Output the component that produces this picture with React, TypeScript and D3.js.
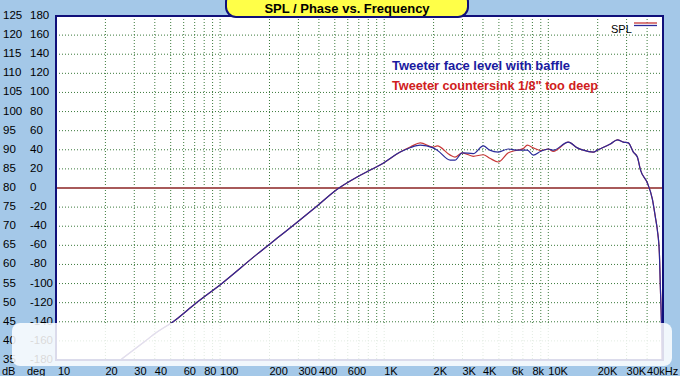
import React from "react";
import * as d3 from "d3";

// ---- data ----
const freqs = [20, 25.6, 34.4, 40.7, 51.7, 71.4, 103, 166, 223, 300, 390, 510, 684, 822, 986, 1252, 1450, 1658, 1990, 2105, 2526, 2700, 2989, 3489, 4015, 4400, 4956, 5704, 6471, 7041, 7447, 8101, 9000, 10000, 10728, 13243, 15025, 16350, 18816, 19900, 23880, 26350, 28660, 30740, 32990, 34890, 36390, 40150, 43070, 44920, 46190, 47510, 48180, 48870, 49300, 49600];
const spl1 = [32.0, 35.5, 39.7, 42.1, 45.0, 49.9, 55.1, 62.5, 66.9, 71.3, 75.3, 79.5, 82.9, 84.7, 86.5, 89.4, 90.6, 91.2, 90.5, 89.9, 87.3, 87.3, 89.2, 89.0, 91.0, 89.9, 89.4, 90.2, 89.9, 89.9, 89.9, 88.6, 89.6, 90.2, 89.9, 92.0, 90.5, 89.9, 89.4, 89.9, 91.5, 92.6, 92.0, 91.8, 89.4, 88.1, 84.8, 81.3, 77.1, 72.4, 69.0, 63.0, 54.1, 45.5, 37.0, 30.0];
const spl2 = [32.0, 35.5, 39.7, 42.1, 45.0, 49.9, 55.1, 62.5, 66.9, 71.3, 75.3, 79.5, 82.9, 84.7, 86.5, 89.4, 90.8, 91.8, 90.7, 91.0, 88.6, 88.1, 89.2, 88.3, 88.7, 87.8, 86.8, 89.2, 89.9, 90.3, 91.2, 90.5, 89.8, 90.2, 89.6, 92.0, 90.5, 89.9, 89.4, 89.9, 91.5, 92.6, 92.0, 91.8, 89.4, 88.1, 84.8, 81.3, 77.1, 72.4, 69.0, 63.0, 54.1, 45.5, 37.0, 30.0];

const dbTicks = [125, 120, 115, 110, 105, 100, 95, 90, 85, 80, 75, 70, 65, 60, 55, 50, 45, 40, 35];
const degTicks = [180, 160, 140, 120, 100, 80, 60, 40, 20, 0, -20, -40, -60, -80, -100, -120, -140, -160, -180];
const xTickValues = [10, 20, 30, 40, 60, 80, 100, 200, 300, 400, 600, 1000, 2000, 3000, 4000, 6000, 8000, 10000, 20000, 30000, 40000];
const xTickLabels = ["10", "20", "30", "40", "60", "80", "100", "200", "300", "400", "600", "1K", "2K", "3K", "4K", "6k", "8k", "10K", "20K", "30K", "40kHz"];
const gridFreqs = [20, 30, 40, 50, 60, 70, 80, 90, 100, 200, 300, 400, 500, 600, 700, 800, 900, 1000, 2000, 3000, 4000, 5000, 6000, 7000, 8000, 9000, 10000, 20000, 30000, 40000];

const title = "SPL / Phase vs. Frequency";
const note1 = "Tweeter face level with baffle";
const note2 = "Tweeter countersink 1/8\" too deep";

export default function App() {
  const W = 680, H = 376;
  const L = 56, R = 663, T = 16, B = 360;
  const x = d3.scaleLog().domain([10, 50000]).range([L, R]);
  const y = d3.scaleLinear().domain([35, 125]).range([B, T]);
  const line = d3.line<number>().x((_, i) => x(freqs[i])).y((d) => y(d)).curve(d3.curveMonotoneX);
  const font = "'Liberation Sans', Arial, sans-serif";
  const bg = "#a4c8e8";
  const navy = "#10107a";
  return (
    <svg width={W} height={H} style={{ position: "absolute", left: 0, top: 0 }} fontFamily={font}>
      <rect x={0} y={0} width={W} height={H} fill={bg} />
      <defs>
        <clipPath id="plotclip"><rect x={L} y={T} width={R - L} height={B - T} /></clipPath>
      </defs>
      <rect x={L} y={T} width={R - L} height={B - T} fill="#fff" />
      {gridFreqs.map((f) => (
        <line key={"gx" + f} x1={x(f)} x2={x(f)} y1={T} y2={B} stroke="#3c7a3c" strokeWidth={1} strokeDasharray="1,2" />
      ))}
      {dbTicks.filter((d) => d !== 80 && d !== 125 && d !== 35).map((d) => (
        <line key={"gy" + d} x1={L} x2={R} y1={y(d)} y2={y(d)} stroke="#3c7a3c" strokeWidth={1} strokeDasharray="1,2" />
      ))}
      <line x1={L} x2={R} y1={y(80)} y2={y(80)} stroke="#a85a5a" strokeWidth={2} />
      <g clipPath="url(#plotclip)">
        <path d={line(spl2) || ""} fill="none" stroke="#c83838" strokeWidth={1.2} />
        <path d={line(spl1) || ""} fill="none" stroke="#2a2a9a" strokeWidth={1.2} />
      </g>
      <rect x={L} y={T} width={R - L} height={B - T} fill="none" stroke={navy} strokeWidth={2} />
      {/* legend */}
      <text x={611} y={33} fontSize={11} fill="#000">SPL</text>
      <line x1={634} x2={657} y1={23} y2={23} stroke="#c83838" strokeWidth={1.3} />
      <line x1={634} x2={657} y1={25.5} y2={25.5} stroke="#2a2a9a" strokeWidth={1.3} />
      {/* annotations */}
      <text x={392} y={70} fontSize={12.5} fontWeight="bold" fill="#1a1aa0" textLength={178} lengthAdjust="spacingAndGlyphs">{note1}</text>
      <text x={392} y={90} fontSize={12.5} fontWeight="bold" fill="#d02020" textLength={206} lengthAdjust="spacingAndGlyphs">{note2}</text>
      {/* left axes */}
      {dbTicks.map((d) => (
        <text key={"db" + d} x={3} y={y(d) + 3} fontSize={11.5} fill="#000">{d}</text>
      ))}
      {degTicks.map((d, i) => (
        <text key={"deg" + d} x={30} y={y(dbTicks[i]) + 3} fontSize={11.5} fill="#000">{d}</text>
      ))}
      {/* bottom axis */}
      <text x={2} y={375} fontSize={11} fill="#000">dB</text>
      <text x={27} y={375} fontSize={11} fill="#000">deg</text>
      {xTickValues.map((f, i) => (
        <text key={"xt" + f} x={x(f) + (i === 0 ? 2 : 0)} y={375} fontSize={11} fill="#000">{xTickLabels[i]}</text>
      ))}
      {/* watermark band */}
      <rect x={12} y={323} width={660} height={43} rx={8} fill="#ffffff" opacity={0.85} />
      {/* title */}
      <rect x={226} y={-8} width={242} height={25} rx={10} fill="#ffff48" stroke={navy} strokeWidth={2} />
      <text x={347} y={13} fontSize={13} fontWeight="bold" textAnchor="middle" fill="#000">{title}</text>
    </svg>
  );
}
